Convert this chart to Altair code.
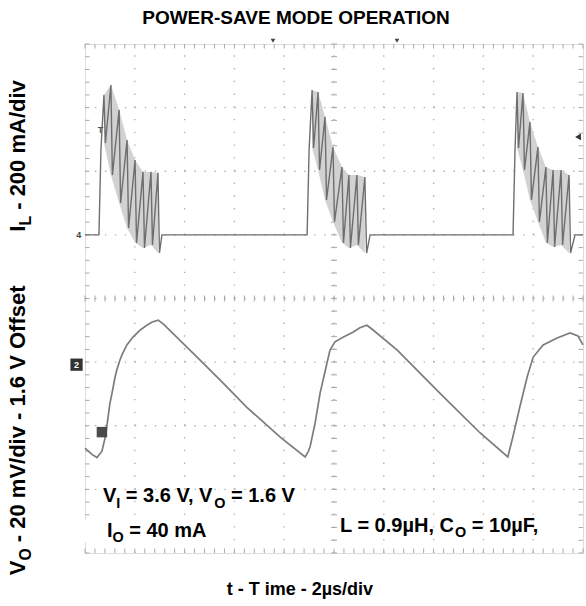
import altair as alt
import pandas as pd

# ---------------- screen set-up ----------------
T_SPAN = 20.0          # 10 div x 2 us/div
DIVS_Y = 8
PLOT_W, PLOT_H = 498, 509
PX_PER_US = PLOT_W / T_SPAN
PX_PER_DIV = PLOT_H / DIVS_Y

# channel scaling: I_L 200 mA/div (zero at div 5), V_O 20 mV/div (zero at div 3)
IL_MA_PER_DIV, IL_ZERO_DIV = 200, 5
VO_MV_PER_DIV, VO_ZERO_DIV = 20, 3

FONT = "Liberation Sans"

# ---------------- traces ----------------
# inductor current, three power-save bursts (time in us, current in mA)
IL_T = [0.0, 0.56, 0.64, 0.76, 0.82, 1.04, 1.10, 1.37, 1.43, 1.69, 1.75, 2.01, 2.07,
        2.33, 2.39, 2.65, 2.71, 2.93, 2.99, 3.09,
        8.92, 9.00, 9.12, 9.18, 9.36, 9.42, 9.64, 9.70, 9.96, 10.02, 10.32, 10.38,
        10.60, 10.66, 10.92, 10.98, 11.24, 11.31, 11.45,
        17.19, 17.27, 17.35, 17.41, 17.59, 17.65, 17.87, 17.93, 18.19, 18.25, 18.51,
        18.57, 18.80, 18.86, 19.12, 19.18, 19.44, 19.50, 19.68, 20.0]
IL_MA = [0, 0, 267, 440, 289, 471, 188, 393, 100, 298, 22, 235, -25,
         198, -41, 198, -32, 195, -57, 0,
         0, 267, 455, 273, 449, 204, 371, 110, 276, 41, 213, -25,
         188, -41, 188, -32, 182, -57, 0,
         0, 267, 449, 273, 446, 204, 355, 110, 276, 41, 213,
         -25, 204, -38, 204, -32, 188, -57, 0, 0]

# ringing envelope inside each burst (peak / following trough, mA)
RING_BURST = [1] * 8 + [2] * 8 + [3] * 8
RING_T = [0.76, 1.04, 1.37, 1.69, 2.01, 2.33, 2.65, 2.93,
          9.12, 9.36, 9.64, 9.96, 10.32, 10.60, 10.92, 11.24,
          17.35, 17.59, 17.87, 18.19, 18.51, 18.80, 19.12, 19.44]
RING_HI = [440, 471, 393, 298, 235, 198, 198, 195,
           455, 449, 371, 276, 213, 188, 188, 182,
           449, 446, 355, 276, 213, 204, 204, 188]
RING_LO = [289, 188, 100, 22, -25, -41, -32, -57,
           273, 204, 110, 41, -25, -41, -32, -57,
           273, 204, 110, 41, -25, -38, -32, -57]

# output voltage ripple (time in us, mV around the 1.6 V offset)
VO_T = [0.0, 0.28, 0.48, 0.68, 0.80, 0.88, 1.00, 1.08, 1.20, 1.28, 1.40, 1.48, 1.68,
        1.92, 2.20, 2.48, 2.70, 2.94, 3.14, 4.50, 5.50, 6.50, 7.84, 8.84, 8.96, 9.04,
        9.24, 9.44, 9.72, 9.84, 10.04, 10.36, 10.76, 11.04, 11.32, 11.52, 12.54, 14.26,
        15.86, 16.98, 17.18, 17.46, 17.76, 18.00, 18.40, 18.96, 19.48, 19.80, 20.0]
VO_MV = [-27, -29, -30, -28, -24, -20, -13, -10, -5, -2.4, 0.6, 2.2, 5.4,
         7.8, 10, 11.6, 12.6, 13.2, 12, 1.6, -6.2, -14.2, -23.6, -29.8, -28.2, -26.6,
         -19.2, -9.8, -0.2, 3.8, 6.4, 7.8, 9.4, 10.8, 11.6, 10.4, 3.8, -9.8,
         -22.2, -29.8, -23.6, -14.2, -4.6, 1.6, 5.4, 7.6, 9.2, 8.2, 5.4]

# ---------------- text ----------------
TITLE = "POWER-SAVE MODE OPERATION"
TIME_LABEL = "t - T ime - 2µs/div"
IL_LABEL = [("I", False), ("L", True), (" - 200 mA/div", False)]
VO_LABEL = [("V", False), ("O", True), (" - 20 mV/div - 1.6 V Offset", False)]
COND_1 = [("V", False), ("I", True), (" = 3.6 V, V", False), ("O", True), (" = 1.6 V", False)]
COND_2 = [("I", False), ("O", True), (" = 40 mA", False)]
COND_3 = [("L = 0.9µH, C", False), ("O", True), (" = 10µF,", False)]

# Arial/Liberation bold advance widths (1/1000 em) for laying out subscript runs
ADV = {' ': 278, ',': 278, '-': 333, '.': 278, '/': 278, '=': 584, 'A': 722, 'C': 722,
       'F': 611, 'H': 722, 'I': 278, 'L': 611, 'O': 778, 'T': 611, 'V': 667, 'a': 556,
       'd': 611, 'e': 556, 'f': 333, 'i': 278, 'm': 889, 's': 556, 't': 333, 'v': 556,
       'µ': 611}
for d in "0123456789":
    ADV[d] = 556


def text_width(s, size):
    return sum(ADV.get(c, 556) for c in s) * size / 1000.0


def layout_runs(parts, t0, y0, size, rotated=False):
    """Place each piece of a label with subscripts (t in us, y in div)."""
    sub_size = round(size * 0.72, 1)
    drop = size * 0.27
    rows, offset = [], 0.0
    for text, is_sub in parts:
        fs = sub_size if is_sub else size
        lead = len(text) - len(text.lstrip(" "))
        start = offset + text_width(" " * lead, fs)
        if rotated:
            t = t0 + (drop if is_sub else 0) / PX_PER_US
            y = y0 + start / PX_PER_DIV
        else:
            t = t0 + start / PX_PER_US
            y = y0 - (drop if is_sub else 0) / PX_PER_DIV
        rows.append({"t": t, "y": y, "label": text.strip(" "), "size": fs})
        offset += text_width(text, fs)
    return rows


# ---------------- tables ----------------
il = pd.DataFrame({"t": IL_T, "y": [IL_ZERO_DIV + v / IL_MA_PER_DIV for v in IL_MA]})
ring = pd.DataFrame({
    "burst": RING_BURST, "t": RING_T,
    "hi": [IL_ZERO_DIV + v / IL_MA_PER_DIV for v in RING_HI],
    "lo": [IL_ZERO_DIV + v / IL_MA_PER_DIV for v in RING_LO],
})
vo = pd.DataFrame({"t": VO_T, "y": [VO_ZERO_DIV + v / VO_MV_PER_DIV for v in VO_MV]})

xs = alt.Scale(domain=[0, T_SPAN], nice=False, zero=False)
ys = alt.Scale(domain=[0, DIVS_Y], nice=False, zero=False)


def X(f="t"):
    return alt.X(f"{f}:Q", scale=xs, axis=None)


def Y(f="y"):
    return alt.Y(f"{f}:Q", scale=ys, axis=None)


# graticule: dotted division lines
vgrid = pd.DataFrame({"t": [2 * k for k in range(1, 10)], "y0": 0, "y1": DIVS_Y})
hgrid = pd.DataFrame({"y": list(range(1, DIVS_Y)), "t0": 0, "t1": T_SPAN})
dot_v = PX_PER_DIV / 5
dot_h = PX_PER_US * 2 / 5

grid_v = alt.Chart(vgrid).mark_rule(color="#b0b0b0", strokeWidth=1.4,
                                    strokeDash=[1.4, dot_v - 1.4]).encode(
    x=X(), y=Y("y0"), y2="y1")
grid_h = alt.Chart(hgrid).mark_rule(color="#b0b0b0", strokeWidth=1.4,
                                    strokeDash=[1.4, dot_h - 1.4]).encode(
    x=X("t0"), x2="t1", y=Y())

# minor ticks on the centre cross and along the frame
tick_rows = []
tl_t = 4.5 / PX_PER_US
tl_y = 4.5 / PX_PER_DIV
for k in range(0, 41):
    yv = k * 0.2
    tick_rows.append({"t0": 10 - 3 / PX_PER_US, "t1": 10 + 3 / PX_PER_US, "y0": yv, "y1": yv})
    tick_rows.append({"t0": 0, "t1": tl_t, "y0": yv, "y1": yv})
    tick_rows.append({"t0": T_SPAN - tl_t, "t1": T_SPAN, "y0": yv, "y1": yv})
for k in range(0, 51):
    tv = k * 0.4
    tick_rows.append({"t0": tv, "t1": tv, "y0": 4 - 3 / PX_PER_DIV, "y1": 4 + 3 / PX_PER_DIV})
    tick_rows.append({"t0": tv, "t1": tv, "y0": 0, "y1": tl_y})
    tick_rows.append({"t0": tv, "t1": tv, "y0": DIVS_Y - tl_y, "y1": DIVS_Y})
ticks = alt.Chart(pd.DataFrame(tick_rows)).mark_rule(color="#a8a8a8", strokeWidth=1).encode(
    x=X("t0"), x2="t1", y=Y("y0"), y2="y1")

# traces
ring_fill = alt.Chart(ring).mark_area(color="#d2d2d2", opacity=1).encode(
    x=X(), y=Y("hi"), y2="lo", detail="burst:N")
il_line = alt.Chart(il).mark_line(color="#6e6e6e", strokeWidth=1.4).encode(x=X(), y=Y())
vo_line = alt.Chart(vo).mark_line(color="#7c7c7c", strokeWidth=1.7).encode(x=X(), y=Y())

# scope channel / trigger markers
marks_pts = pd.DataFrame({
    "t": [-0.34, 0.68, 7.55, 12.53, 19.80],
    "y": [2.96, 1.90, 8.05, 8.05, 6.54],
    "shape": ["square", "square", "triangle-down", "triangle-down", "triangle-left"],
    "size": [150, 110, 22, 22, 45],
    "color": ["#333333", "#4a4a4a", "#444444", "#444444", "#333333"],
})
markers = alt.Chart(marks_pts).mark_point(filled=True, opacity=1).encode(
    x=X(), y=Y(), shape=alt.Shape("shape:N", scale=None),
    size=alt.Size("size:Q", scale=None), color=alt.Color("color:N", scale=None))
marker_txt = alt.Chart(pd.DataFrame({
    "t": [-0.25, -0.34, 0.62], "y": [5.0, 2.96, 6.65],
    "label": ["4", "2", "T"], "color": ["#444444", "#ffffff", "#555555"],
})).mark_text(font=FONT, fontSize=9, fontWeight="bold", align="center", baseline="middle").encode(
    x=X(), y=Y(), text="label:N", color=alt.Color("color:N", scale=None))

# white label box behind the load-current note
note_box = alt.Chart(pd.DataFrame({"t0": [-0.4], "t1": [5.2], "y0": [0.17], "y1": [0.52]})).mark_rect(
    color="white").encode(x=X("t0"), x2="t1", y=Y("y0"), y2="y1")


def text_layer(rows, angle=0):
    return alt.Chart(pd.DataFrame(rows)).mark_text(
        align="left", baseline="alphabetic", font=FONT, fontWeight="bold",
        color="#000000", angle=angle).encode(
        x=X(), y=Y(), text="label:N", size=alt.Size("size:Q", scale=None))


notes = text_layer(layout_runs(COND_1, 0.72, 0.80, 20)
                   + layout_runs(COND_2, 0.88, 0.25, 20)
                   + layout_runs(COND_3, 10.24, 0.33, 20))
side_titles = text_layer(layout_runs(IL_LABEL, -2.39, 5.05, 22, rotated=True)
                         + layout_runs(VO_LABEL, -2.39, -0.35, 22, rotated=True), angle=270)
time_title = alt.Chart(pd.DataFrame({"t": [8.63], "y": [-0.66], "label": [TIME_LABEL]})).mark_text(
    align="center", baseline="alphabetic", font=FONT, fontWeight="bold", fontSize=18,
    color="#000000").encode(x=X(), y=Y(), text="label:N")

chart = alt.layer(
    grid_v, grid_h, ticks, note_box, ring_fill, il_line, vo_line,
    markers, marker_txt, notes, side_titles, time_title,
).properties(
    width=PLOT_W, height=PLOT_H,
    title=alt.TitleParams(TITLE, font=FONT, fontSize=19, fontWeight="bold", color="#000000",
                          anchor="middle", dx=-38, offset=11),
    autosize=alt.AutoSizeParams(type="none"),
    padding={"left": 85, "top": 44, "right": 3, "bottom": 53},
).configure_view(stroke="#8c8c8c", strokeWidth=1.3).configure(background="white")

chart.save("out.html", embed_options={"renderer": "svg", "actions": False})
